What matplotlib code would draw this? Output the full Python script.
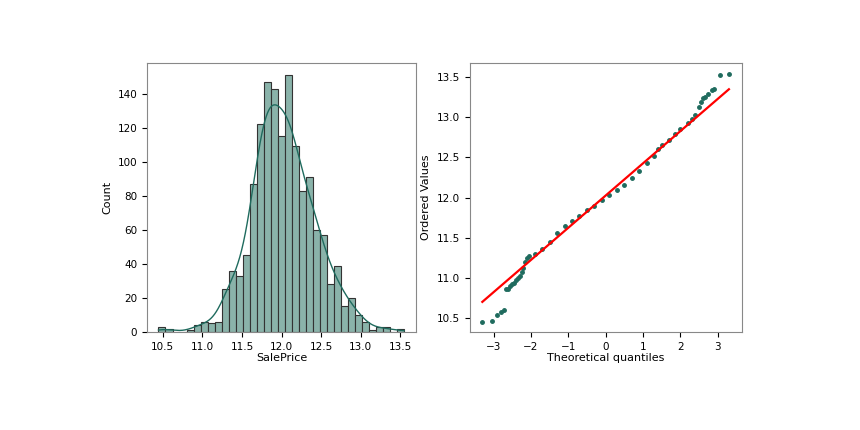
import numpy as np
import matplotlib
matplotlib.use("Agg")
import matplotlib.pyplot as plt

# Histogram data
bin_start = 10.445
bin_width = 0.0887
counts = [3, 2, 0, 0, 1, 4, 6, 5, 6, 25, 36, 33, 45, 87, 122, 147, 143, 115, 151,
          109, 83, 91, 60, 57, 28, 39, 15, 20, 10, 6, 1, 3, 3, 0, 2]

# QQ data
theo = [-3.3, -3.05, -2.9, -2.8, -2.72, -2.66, -2.6, -2.55, -2.5, -2.45, -2.4, -2.35, -2.3,
        -2.25, -2.2, -2.15, -2.1, -2.05, -1.9, -1.7, -1.5, -1.3, -1.1, -0.9, -0.7, -0.5,
        -0.3, -0.1, 0.1, 0.3, 0.5, 0.7, 0.9, 1.1, 1.3, 1.4, 1.5, 1.7, 1.85, 2.0, 2.2, 2.3,
        2.4, 2.5, 2.55, 2.6, 2.65, 2.75, 2.85, 2.9, 3.05, 3.3]
ordered = [10.46, 10.47, 10.54, 10.58, 10.60, 10.86, 10.87, 10.90, 10.92, 10.94, 10.98,
           11.00, 11.03, 11.08, 11.13, 11.20, 11.25, 11.27, 11.30, 11.36, 11.45, 11.56,
           11.64, 11.71, 11.77, 11.84, 11.90, 11.97, 12.03, 12.09, 12.15, 12.24, 12.33,
           12.43, 12.52, 12.60, 12.65, 12.71, 12.79, 12.85, 12.93, 12.97, 13.03, 13.12,
           13.19, 13.23, 13.25, 13.29, 13.33, 13.35, 13.52, 13.53]
fit_slope = 0.4
fit_intercept = 12.024

green = "#1f6b5e"
fig = plt.figure(figsize=(8.6, 4.3), dpi=100)
ax1 = fig.add_axes([147/860, 1-332/430, 269/860, 269/430])
ax2 = fig.add_axes([470/860, 1-332/430, 272/860, 269/430])

edges = bin_start + bin_width*np.arange(len(counts)+1)
ax1.bar(edges[:-1], counts, width=bin_width, align="edge", color="#8ab3aa",
        edgecolor="#333333", linewidth=0.8)
centers = edges[:-1] + bin_width/2
w = np.array(counts, float)
xs = np.linspace(edges[0], edges[-1], 400)
bw = 0.12
dens = (w[:, None]*np.exp(-0.5*((xs[None, :]-centers[:, None])/bw)**2)).sum(0)/(bw*np.sqrt(2*np.pi))
ax1.plot(xs, dens*bin_width, color=green, linewidth=1)
ax1.set_xlabel("SalePrice", fontsize=8, labelpad=1)
ax1.set_ylabel("Count", fontsize=8)
ax1.set_xticks([10.5, 11.0, 11.5, 12.0, 12.5, 13.0, 13.5])
ax1.set_yticks(range(0, 141, 20))
ax1.set_ylim(0, 158)
ax1.set_xlim(10.3, 13.7)
ax1.tick_params(labelsize=7.5)

ax2.plot(theo, ordered, "o", color=green, markersize=2.5)
lx = np.array([min(theo), max(theo)])
ax2.plot(lx, fit_slope*lx + fit_intercept, color="red", linewidth=1.6)
ax2.set_xlabel("Theoretical quantiles", fontsize=8, labelpad=1)
ax2.set_ylabel("Ordered Values", fontsize=8)
ax2.set_xticks([-3, -2, -1, 0, 1, 2, 3])
ax2.set_xlim(-3.63, 3.65)
ax2.set_ylim(10.33, 13.67)
ax2.tick_params(labelsize=7.5)
for ax in (ax1, ax2):
    for s in ax.spines.values():
        s.set_color("#888888")
fig.savefig("out.png", dpi=100)
